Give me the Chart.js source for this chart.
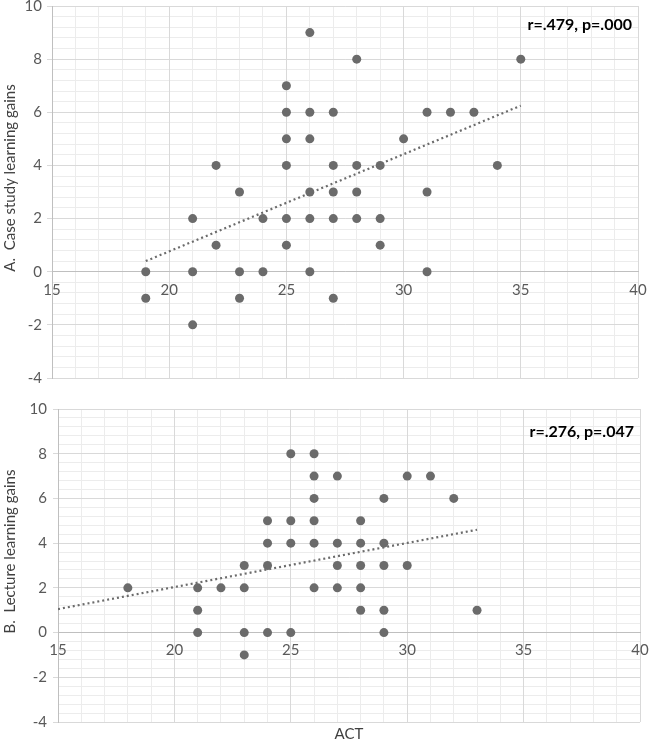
<!DOCTYPE html>
<html>
<head>
<meta charset="utf-8">
<script src="https://cdn.jsdelivr.net/npm/chart.js@4"></script>
<style>
  body { margin: 0; background: #fff; }
  #wrap { position: relative; width: 650px; height: 743px; }
  canvas { position: absolute; left: 0; }
</style>
</head>
<body>
<div id="wrap">
  <canvas id="chartA" width="650" height="385" style="top:0"></canvas>
  <canvas id="chartB" width="650" height="358" style="top:385px"></canvas>
</div>
<script>
// A: case study learning gains vs ACT
const actA  = [19,19,21,21,21,22,22,23,23,23,24,24,25,25,25,25,25,25,26,26,26,26,26,26,27,27,27,27,27,28,28,28,28,29,29,29,30,31,31,31,32,33,34,35];
const gainA = [0,-1,2,0,-2,4,1,3,0,-1,2,0,7,6,5,4,2,1,9,6,5,3,2,0,6,4,3,2,-1,8,4,3,2,4,2,1,5,6,3,0,6,6,4,8];
const trendXA = [19, 35];
const trendYA = [0.4, 6.25];

// B: lecture learning gains vs ACT
const actB  = [18,21,21,21,22,23,23,23,23,24,24,24,24,25,25,25,25,26,26,26,26,26,26,27,27,27,27,28,28,28,28,28,29,29,29,29,29,30,30,31,32,33];
const gainB = [2,2,1,0,2,3,2,0,-1,5,4,3,0,8,5,4,0,8,7,6,5,4,2,7,4,3,2,5,4,3,2,1,6,4,3,1,0,7,3,7,6,1];
const trendXB = [15, 33];
const trendYB = [1.05, 4.6];

const xTicks = [15, 20, 25, 30, 35, 40];
const yTicks = [-4, -2, 0, 2, 4, 6, 8, 10];

const FONT = 'Lato';
const dotColor = '#6b6b6b';

// stats label + rotated y title
const panelText = {
  id: 'panelText',
  afterDraw(chart, args, opts) {
    const { ctx, chartArea } = chart;
    ctx.save();
    ctx.fillStyle = '#000';
    ctx.font = 'bold 16px ' + FONT;
    ctx.textAlign = 'right';
    ctx.textBaseline = 'middle';
    ctx.fillText(opts.stat, chartArea.right - 6, chartArea.top + opts.statDy);
    ctx.translate(opts.titleX, (chartArea.top + chartArea.bottom) / 2 - 14);
    ctx.rotate(-Math.PI / 2);
    ctx.textAlign = 'center';
    ctx.fillStyle = '#404040';
    ctx.font = '15px ' + FONT;
    ctx.fillText(opts.yTitle, 0, 0);
    ctx.restore();
  }
};

function makeChart(id, xs, ys, tx, ty, p) {
  const pts = xs.map((x, i) => ({ x: x, y: ys[i] }));
  const trend = tx.map((x, i) => ({ x: x, y: ty[i] }));
  const tickFont = { family: FONT, size: 15 };
  return new Chart(document.getElementById(id), {
    type: 'scatter',
    data: {
      datasets: [
        { data: pts, backgroundColor: dotColor, borderWidth: 0, pointRadius: 4.5, pointHoverRadius: 4.5 },
        { data: trend, showLine: true, borderColor: '#6b6b6b', borderWidth: 2.2, borderDash: [2, 3],
          pointRadius: 0, fill: false }
      ]
    },
    options: {
      responsive: false,
      animation: false,
      layout: { padding: p.padding },
      plugins: {
        legend: { display: false },
        tooltip: { enabled: false },
        title: p.xTitle ? {
          display: true, text: p.xTitle, position: 'bottom', fullSize: false,
          color: '#404040', font: { family: FONT, size: 15, weight: 'normal' },
          padding: { top: 3, bottom: 0 }
        } : { display: false },
        panelText: { stat: p.stat, statDy: p.statDy, yTitle: p.yTitle, titleX: 10 }
      },
      scales: {
        xm: {
          type: 'linear', min: 15, max: 40, position: 'bottom', z: -2,
          ticks: { display: false, stepSize: 1 },
          grid: { color: '#ececec', drawTicks: false },
          border: { display: false }
        },
        ym: {
          type: 'linear', min: -4, max: 10, position: 'left', z: -2,
          ticks: { display: false, stepSize: 0.4 },
          grid: { color: '#ececec', drawTicks: false },
          border: { display: false },
          afterFit: s => { s.width = 0; }
        },
        x: {
          type: 'linear', min: 15, max: 40, position: { y: 0 }, z: -1,
          afterBuildTicks: s => { s.ticks = xTicks.map(v => ({ value: v })); },
          ticks: { color: '#595959', font: tickFont, padding: 9, maxRotation: 0 },
          grid: { color: '#d9d9d9', drawTicks: false },
          border: { color: '#bfbfbf' },
          afterFit: s => { s.paddingLeft = 0; s.paddingRight = 0; }
        },
        y: {
          type: 'linear', min: -4, max: 10, position: 'left', z: -1,
          afterBuildTicks: s => { s.ticks = yTicks.map(v => ({ value: v })); },
          ticks: { color: '#595959', font: tickFont, padding: p.yPad },
          grid: { color: '#d9d9d9', tickLength: 5 },
          border: { color: '#bfbfbf' },
          afterFit: s => { s.width = p.yWidth; s.paddingTop = 0; s.paddingBottom = 0; }
        }
      }
    },
    plugins: [panelText]
  });
}

makeChart('chartA', actA, gainA, trendXA, trendYA, {
  padding: { top: 6, bottom: 7, left: 0, right: 12 },
  yWidth: 52, yPad: 5, statDy: 19,
  stat: 'r=.479, p=.000',
  yTitle: 'A.  Case study learning gains'
});

makeChart('chartB', actB, gainB, trendXB, trendYB, {
  padding: { top: 24, bottom: 0, left: 0, right: 10 },
  yWidth: 58, yPad: 6, statDy: 23,
  stat: 'r=.276, p=.047',
  yTitle: 'B.  Lecture learning gains',
  xTitle: 'ACT'
});
</script>
</body>
</html>
